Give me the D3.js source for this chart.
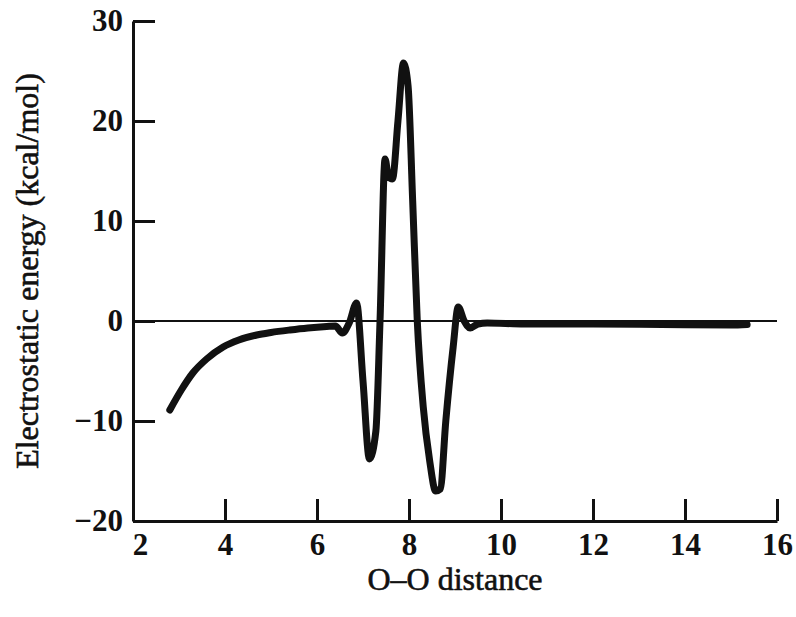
<!DOCTYPE html>
<html>
<head>
<meta charset="utf-8">
<script src="https://cdn.jsdelivr.net/npm/d3@7"></script>
<style>
    body { margin: 0; background: #fff; }
    svg { display: block; }
    .tick text { font-family: "Liberation Serif", "DejaVu Serif", serif; font-weight: bold; }
</style>
</head>
<body>
<div id="chart"></div>
<script>
// O-O distance vs electrostatic energy
const distance = [2.80, 3.05, 3.30, 3.60, 3.96, 4.30, 4.69, 5.00, 5.41, 5.80, 6.21, 6.40, 6.55, 6.70, 6.86,
    7.00, 7.14, 7.28, 7.37, 7.48, 7.55, 7.64, 7.76, 7.88, 7.98, 8.08, 8.18, 8.31, 8.45, 8.58, 8.68,
    8.80, 8.96, 9.07, 9.20, 9.33, 9.50, 9.70, 10.5, 12.0, 13.5, 15.0, 15.35];
const energy = [-8.9, -6.9, -5.2, -3.8, -2.6, -1.9, -1.4, -1.15, -0.9, -0.7, -0.55, -0.5, -1.2, -0.2, 1.8,
    -6.0, -13.8, -11.0, 0.0, 16.2, 14.5, 14.2, 20.0, 25.8, 23.5, 12.0, 0.0, -8.6, -14.0, -17.0, -16.8,
    -10.0, -2.6, 1.4, 0.0, -0.7, -0.3, -0.2, -0.3, -0.3, -0.35, -0.4, -0.35];
const xTicks = [2, 4, 6, 8, 10, 12, 14, 16];
const yTicks = [-20, -10, 0, 10, 20, 30];

const W = 796, H = 617;
const svg = d3.select("#chart").append("svg").attr("width", W).attr("height", H);

const x = d3.scaleLinear().domain([2, 16]).range([133, 777]);
const y = d3.scaleLinear().domain([-20, 30]).range([521, 21]);

// zero line
svg.append("line")
    .attr("x1", x(2)).attr("x2", x(16))
    .attr("y1", y(0)).attr("y2", y(0))
    .attr("stroke", "#111").attr("stroke-width", 2);

const xAxis = svg.append("g")
    .attr("transform", `translate(0,${y(-20)})`)
    .call(d3.axisBottom(x).tickValues(xTicks).tickSizeInner(-22).tickSizeOuter(0).tickPadding(12));

const yAxis = svg.append("g")
    .attr("transform", `translate(${x(2)},0)`)
    .call(d3.axisLeft(y).tickValues(yTicks).tickSizeInner(-22).tickSizeOuter(0).tickPadding(10)
        .tickFormat(d => d < 0 ? "\u2212" + Math.abs(d) : d));

[xAxis, yAxis].forEach(g => {
    g.select(".domain").attr("stroke", "#111").attr("stroke-width", 3);
    g.selectAll(".tick line").attr("stroke", "#111").attr("stroke-width", 3);
    g.selectAll(".tick text").attr("fill", "#111").attr("font-size", 31);
});
// the "2" sits a little right of the corner
xAxis.selectAll(".tick text").filter(d => d === 2).attr("dx", 7);

const pts = distance.map((d, i) => [d, energy[i]]);
const line = d3.line()
    .x(d => x(d[0]))
    .y(d => y(d[1]))
    .curve(d3.curveMonotoneX);

svg.append("path")
    .datum(pts)
    .attr("fill", "none")
    .attr("stroke", "#111")
    .attr("stroke-width", 7)
    .attr("stroke-linejoin", "round")
    .attr("stroke-linecap", "round")
    .attr("d", line);

// axis titles
svg.append("text")
    .attr("x", 455).attr("y", 590)
    .attr("text-anchor", "middle")
    .attr("font-family", "Liberation Serif, serif")
    .attr("font-size", 32)
    .attr("fill", "#111")
    .attr("stroke", "#111").attr("stroke-width", 0.6)
    .text("O\u2013O distance");

svg.append("text")
    .attr("transform", "translate(38,271) rotate(-90)")
    .attr("text-anchor", "middle")
    .attr("font-family", "Liberation Serif, serif")
    .attr("font-size", 32)
    .attr("fill", "#111")
    .attr("stroke", "#111").attr("stroke-width", 0.6)
    .text("Electrostatic energy (kcal/mol)");
</script>
</body>
</html>
